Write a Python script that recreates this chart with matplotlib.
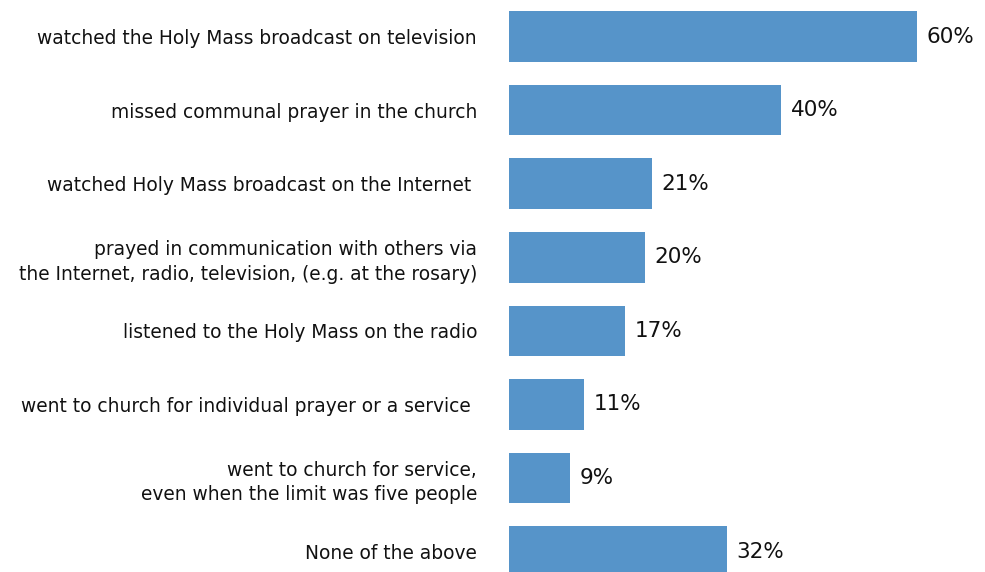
import matplotlib
matplotlib.use('Agg')
import matplotlib.pyplot as plt

categories = [
    'watched the Holy Mass broadcast on television',
    'missed communal prayer in the church',
    'watched Holy Mass broadcast on the Internet ',
    'prayed in communication with others via\nthe Internet, radio, television, (e.g. at the rosary)',
    'listened to the Holy Mass on the radio',
    'went to church for individual prayer or a service ',
    'went to church for service,\neven when the limit was five people',
    'None of the above',
]
values = [60, 40, 21, 20, 17, 11, 9, 32]
value_labels = ['60%', '40%', '21%', '20%', '17%', '11%', '9%', '32%']

plt.rcParams['font.family'] = ['DejaVu Sans']

fig = plt.figure(figsize=(9.85, 5.72), dpi=100)
ax = fig.add_axes([509 / 985, 0, 1 - 509 / 985, 1])

pos = list(range(len(categories)))
bars = ax.barh(pos, values, height=0.69, color='#5694C9')
ax.set_xlim(0, 70)
ax.set_ylim(7.276, -0.496)

ax.set_yticks(pos)
ax.set_yticklabels(categories, fontsize=13.4, color='#111111', linespacing=1.36)
ax.tick_params(axis='y', length=0, pad=23)
ax.set_xticks([])
for s in ax.spines.values():
    s.set_visible(False)

for b, lab in zip(bars, value_labels):
    ax.annotate(lab, (b.get_width(), b.get_y() + b.get_height() / 2),
                xytext=(7, 0), textcoords='offset points',
                va='center', ha='left', fontsize=15.5, color='#111111')

fig.savefig('out.png', dpi=100)
